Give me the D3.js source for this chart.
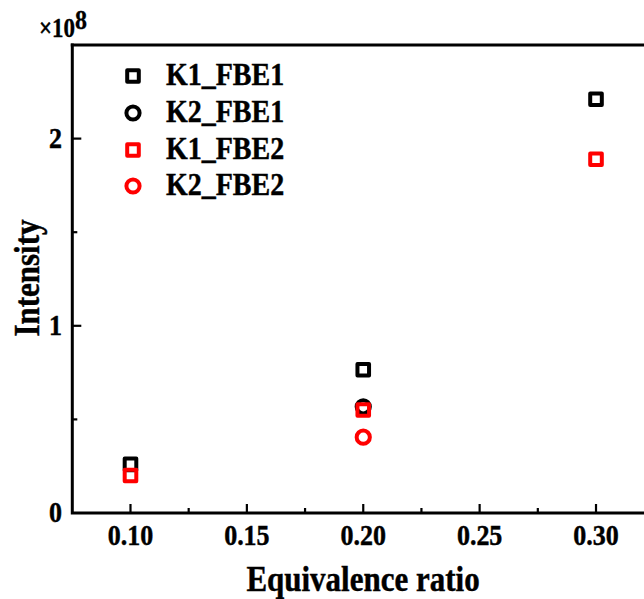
<!DOCTYPE html>
<html><head><meta charset="utf-8">
<script src="https://cdn.jsdelivr.net/npm/d3@7"></script>
<style>html,body{margin:0;padding:0;background:#fff;}svg{display:block;}</style>
</head><body>
<script>
const categories = [0.10, 0.20, 0.30];
const K1_FBE1 = [0.26, 0.765, 2.21];
const K2_FBE1 = [null, 0.567, null];
const K1_FBE2 = [0.20, 0.55, 1.89];
const K2_FBE2 = [null, 0.405, null];
const xTicks = [0.10, 0.15, 0.20, 0.25, 0.30];
const xTickLabels = ["0.10", "0.15", "0.20", "0.25", "0.30"];
const yTicks = [0, 1, 2];
const yTickLabels = ["0", "1", "2"];

const series = [
  {name: "K1_FBE1", values: K1_FBE1, shape: "square", color: "#000"},
  {name: "K2_FBE1", values: K2_FBE1, shape: "circle", color: "#000"},
  {name: "K1_FBE2", values: K1_FBE2, shape: "square", color: "#ff0000"},
  {name: "K2_FBE2", values: K2_FBE2, shape: "circle", color: "#ff0000"}
];

const W = 644, H = 599;
const font = "'Liberation Serif','Times New Roman',serif";
const SY = 1.15;
const svg = d3.select("body").append("svg").attr("width", W).attr("height", H);

const x = d3.scaleLinear().domain([0.075, 0.325]).range([72.3, 654.2]);
const y = d3.scaleLinear().domain([0, 2.5]).range([513, 45]);

function addText(g, tx, ty, str, size, anchor, rot) {
  return g.append("text")
    .attr("transform", `translate(${tx},${ty})${rot ? " rotate(" + rot + ")" : ""} scale(1,${SY})`)
    .attr("text-anchor", anchor || "start")
    .attr("font-family", font).attr("font-weight", "bold").attr("font-size", size)
    .attr("stroke", "#000").attr("stroke-width", 0.4)
    .text(str);
}

// frame
const frame = svg.append("g").attr("stroke", "#000").attr("stroke-width", 3).attr("fill", "none");
frame.append("path").attr("d", `M${x.range()[0]},${y(2.5)}L${x.range()[0]},${y(0)}L${x.range()[1]},${y(0)}`).attr("stroke-linecap", "square");
frame.append("line").attr("x1", x.range()[0]).attr("x2", x.range()[1]).attr("y1", y(2.5)).attr("y2", y(2.5)).attr("stroke-linecap", "square");

// ticks
const xMinor = [0.125, 0.175, 0.225, 0.275];
const tk = svg.append("g").attr("stroke", "#000").attr("stroke-width", 2.2);
xTicks.forEach(v => tk.append("line").attr("x1", x(v)).attr("x2", x(v)).attr("y1", y(0)).attr("y2", y(0) - 9));
xMinor.forEach(v => tk.append("line").attr("x1", x(v)).attr("x2", x(v)).attr("y1", y(0)).attr("y2", y(0) - 5));
const yMinor = [0.5, 1.5];
yTicks.forEach(v => { if (v > 0) tk.append("line").attr("x1", x.range()[0]).attr("x2", x.range()[0] + 9).attr("y1", y(v)).attr("y2", y(v)); });
yMinor.forEach(v => tk.append("line").attr("x1", x.range()[0]).attr("x2", x.range()[0] + 5).attr("y1", y(v)).attr("y2", y(v)));

// tick labels
const tl = svg.append("g");
xTicks.forEach((v, i) => addText(tl, x(v), 545, xTickLabels[i], 26, "middle"));
yTicks.forEach((v, i) => addText(tl, 62, y(v) + 9, yTickLabels[i], 26, "end"));

// axis titles
addText(svg, 363, 591, "Equivalence ratio", 31, "middle");
addText(svg, 39, 278, "Intensity", 31, "middle", -90);

// multiplier
const mult = svg.append("text").attr("transform", `translate(39,37) scale(1,${SY})`)
  .attr("font-family", font).attr("font-weight", "bold").attr("stroke", "#000").attr("stroke-width", 0.3);
mult.append("tspan").attr("font-size", 23).text("×10");
mult.append("tspan").attr("font-size", 24).attr("dy", -7).text("8");

function drawMarker(g, shape, cx, cy, color) {
  if (shape === "square") {
    g.append("rect").attr("x", cx - 5.8).attr("y", cy - 5.8).attr("width", 11.6).attr("height", 11.6)
      .attr("fill", "none").attr("stroke", color).attr("stroke-width", 4).attr("stroke-linejoin", "round");
  } else {
    g.append("circle").attr("cx", cx).attr("cy", cy).attr("r", 6.6)
      .attr("fill", "none").attr("stroke", color).attr("stroke-width", 4);
  }
}

// points
const pts = svg.append("g");
series.forEach(s => {
  s.values.forEach((v, i) => {
    if (v === null) return;
    drawMarker(pts, s.shape, x(categories[i]), y(v), s.color);
  });
});

// legend
const leg = svg.append("g");
const legY = [76, 113, 150, 186];
series.forEach((s, i) => {
  drawMarker(leg, s.shape, 133, legY[i], s.color);
  addText(leg, 166, legY[i] + 9, s.name, 28, "start");
});
</script>
</body></html>
